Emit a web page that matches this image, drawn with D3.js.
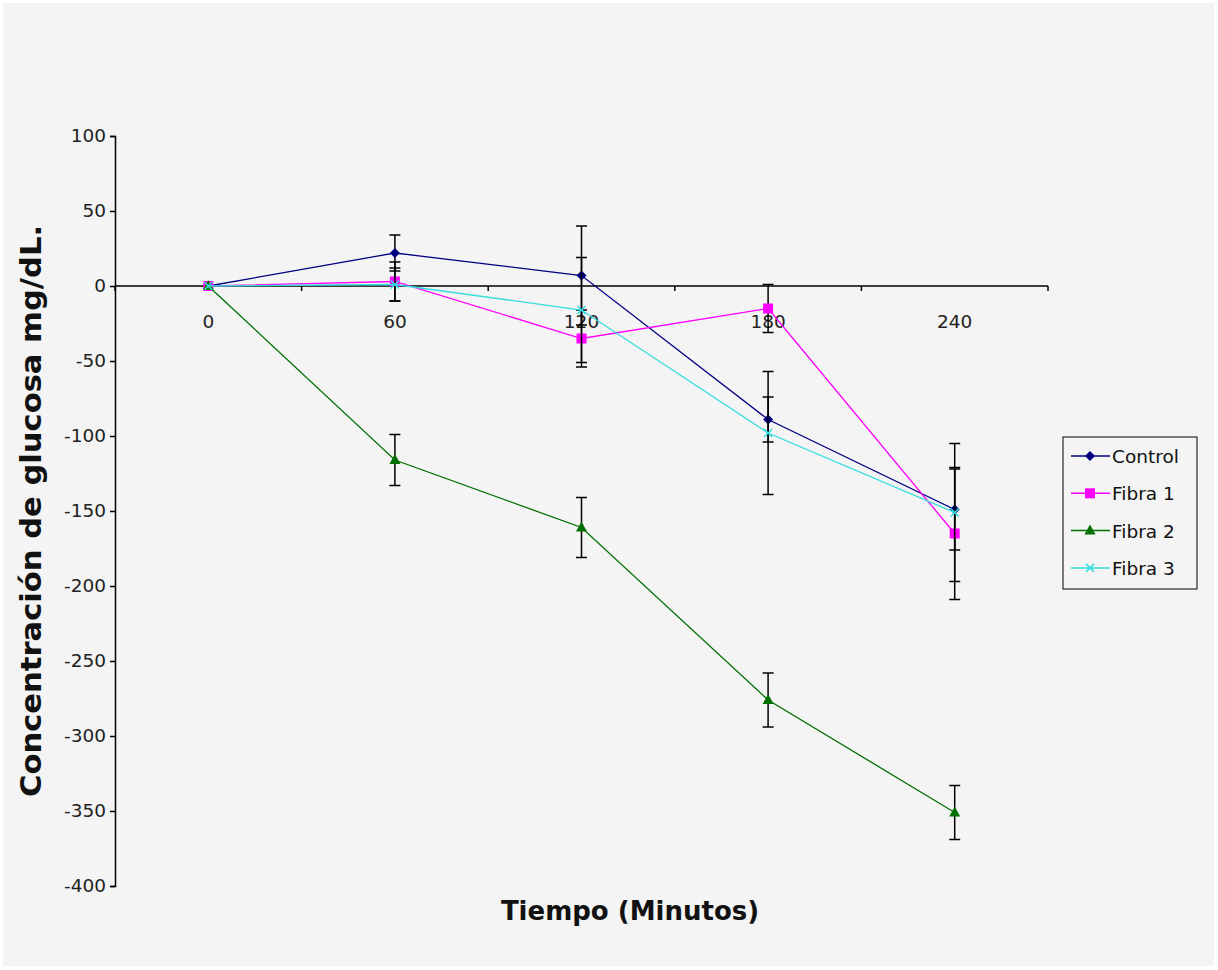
<!DOCTYPE html>
<html>
<head>
<meta charset="utf-8">
<script src="https://cdn.jsdelivr.net/npm/d3@7"></script>
<style>
  body { margin: 0; background: #ffffff; }
  svg { display: block; font-family: "DejaVu Sans", Arial, sans-serif; }
</style>
</head>
<body>
<div id="area"></div>
<script>
// data
var times = ['0', '60', '120', '180', '240'];
var seriesNames = ['Control', 'Fibra 1', 'Fibra 2', 'Fibra 3'];
var controlValues = [0, 22, 7, -89, -149];
var controlErrors = [0, 12, 33, 15, 27];
var fibra1Values = [0, 3, -35, -15, -165];
var fibra1Errors = [0, 13, 19, 16, 44];
var fibra2Values = [0, -116, -161, -276, -351];
var fibra2Errors = [0, 17, 20, 18, 18];
var fibra3Values = [0, 1, -16, -98, -151];
var fibra3Errors = [0, 11, 35, 41, 46];
var yTicks = [100, 50, 0, -50, -100, -150, -200, -250, -300, -350, -400];

var width = 1218, height = 970;
var colors = ['#000080', '#ff00ff', '#007000', '#33dddd'],
    shapes = ['diamond', 'square', 'triangle', 'cross'];

var series = [
  {name: seriesNames[0], values: controlValues, errors: controlErrors},
  {name: seriesNames[1], values: fibra1Values, errors: fibra1Errors},
  {name: seriesNames[2], values: fibra2Values, errors: fibra2Errors},
  {name: seriesNames[3], values: fibra3Values, errors: fibra3Errors}
];

var svg = d3.select('#area').append('svg')
    .attr('width', width)
    .attr('height', height);

svg.append('rect')
    .attr('x', 3).attr('y', 3)
    .attr('width', width - 7).attr('height', height - 7)
    .attr('fill', '#f4f4f4');

var x = d3.scalePoint().domain(times).range([115, 1048]).padding(0.5);
var y = d3.scaleLinear().domain([-400, 100]).range([886, 136]);

// y axis (plain hyphen for negatives, like the original)
var yAxis = svg.append('g')
    .attr('transform', 'translate(115,0)')
    .call(d3.axisLeft(y).tickValues(yTicks).tickSize(5).tickPadding(4)
      .tickFormat(function(d) { return String(d); }));
yAxis.select('.domain').attr('stroke', '#000').attr('stroke-width', 1.5);
yAxis.selectAll('.tick line').attr('stroke', '#000').attr('stroke-width', 1.5);
yAxis.selectAll('.tick text')
    .attr('font-size', 18.5).attr('fill', '#222')
    .style('font-family', '"DejaVu Sans", Arial, sans-serif');

// x axis along y = 0, ticks between categories
var step = x.step();
var xAxisLine = svg.append('g');
xAxisLine.append('line')
    .attr('x1', 115).attr('x2', 1048)
    .attr('y1', y(0)).attr('y2', y(0))
    .attr('stroke', '#000').attr('stroke-width', 1.5);
xAxisLine.selectAll('.xt')
    .data(d3.range(times.length + 1))
    .enter().append('line')
    .attr('x1', function(i) { return 115 + i * step; })
    .attr('x2', function(i) { return 115 + i * step; })
    .attr('y1', y(0)).attr('y2', y(0) + 5)
    .attr('stroke', '#000').attr('stroke-width', 1.5);
xAxisLine.selectAll('.xl')
    .data(times)
    .enter().append('text')
    .attr('x', function(d) { return x(d); })
    .attr('y', y(0) + 42)
    .attr('text-anchor', 'middle')
    .attr('font-size', 18.5).attr('fill', '#222')
    .text(function(d) { return d; });

function drawMarker(g, shape, color, cx, cy) {
  if (shape == 'diamond') {
    g.append('path')
      .attr('d', 'M' + cx + ',' + (cy - 5) + 'L' + (cx + 5) + ',' + cy + 'L' + cx + ',' + (cy + 5) + 'L' + (cx - 5) + ',' + cy + 'Z')
      .attr('fill', color);
  } else if (shape == 'square') {
    g.append('rect')
      .attr('x', cx - 5).attr('y', cy - 5).attr('width', 10).attr('height', 10)
      .attr('fill', color);
  } else if (shape == 'triangle') {
    g.append('path')
      .attr('d', 'M' + cx + ',' + (cy - 6) + 'L' + (cx + 5.5) + ',' + (cy + 4) + 'L' + (cx - 5.5) + ',' + (cy + 4) + 'Z')
      .attr('fill', color);
  } else {
    g.append('path')
      .attr('d', 'M' + (cx - 4) + ',' + (cy - 4) + 'L' + (cx + 4) + ',' + (cy + 4) + 'M' + (cx - 4) + ',' + (cy + 4) + 'L' + (cx + 4) + ',' + (cy - 4))
      .attr('stroke', color).attr('stroke-width', 1.5).attr('fill', 'none');
  }
}

var line = d3.line()
    .x(function(d, i) { return x(times[i]); })
    .y(function(d) { return y(d); });

series.forEach(function(s, k) {
  var g = svg.append('g');
  g.append('path')
    .attr('d', line(s.values))
    .attr('fill', 'none')
    .attr('stroke', colors[k])
    .attr('stroke-width', 1.3);

  // error bars
  s.values.forEach(function(v, i) {
    var e = s.errors[i];
    if (!e) return;
    var cx = x(times[i]);
    g.append('line')
      .attr('x1', cx).attr('x2', cx)
      .attr('y1', y(v + e)).attr('y2', y(v - e))
      .attr('stroke', '#000').attr('stroke-width', 1.5);
    [v + e, v - e].forEach(function(w) {
      g.append('line')
        .attr('x1', cx - 5.5).attr('x2', cx + 5.5)
        .attr('y1', y(w)).attr('y2', y(w))
        .attr('stroke', '#000').attr('stroke-width', 1.5);
    });
  });

  s.values.forEach(function(v, i) {
    drawMarker(g, shapes[k], colors[k], x(times[i]), y(v));
  });
});

// legend
var legend = svg.append('g');
legend.append('rect')
    .attr('x', 1063).attr('y', 437)
    .attr('width', 134).attr('height', 152)
    .attr('fill', 'none').attr('stroke', '#000').attr('stroke-width', 1);
series.forEach(function(s, k) {
  var ly = 456 + k * 37.3;
  legend.append('line')
    .attr('x1', 1071).attr('x2', 1110)
    .attr('y1', ly).attr('y2', ly)
    .attr('stroke', colors[k]).attr('stroke-width', 1.5);
  drawMarker(legend, shapes[k], colors[k], 1090, ly);
  legend.append('text')
    .attr('x', 1112).attr('y', ly + 7)
    .attr('font-size', 18.5).attr('fill', '#111')
    .text(s.name);
});

// axis titles
svg.append('text')
    .attr('x', 630).attr('y', 920)
    .attr('text-anchor', 'middle')
    .attr('font-size', 26).attr('font-weight', 'bold')
    .attr('fill', '#111')
    .text('Tiempo (Minutos)');

svg.append('text')
    .attr('transform', 'translate(41,511) rotate(-90)')
    .attr('text-anchor', 'middle')
    .attr('font-size', 28).attr('font-weight', 'bold')
    .attr('textLength', 572).attr('lengthAdjust', 'spacingAndGlyphs')
    .attr('fill', '#111')
    .text('Concentración de glucosa mg/dL.');
</script>
</body>
</html>
